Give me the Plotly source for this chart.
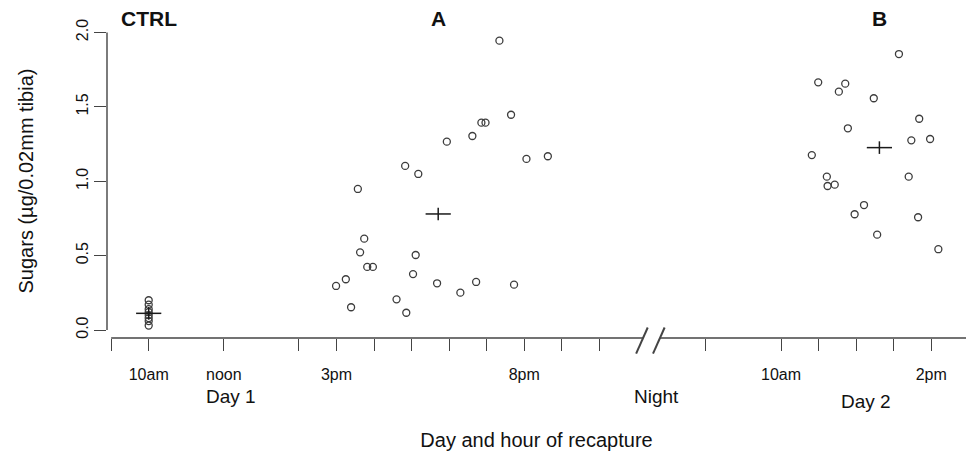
import plotly.graph_objects as go

# ---------------- data ----------------
ctrl_hour = [10.0, 10.0, 10.0, 10.0, 10.0, 10.0, 10.0, 10.0]
ctrl_val = [0.20, 0.17, 0.14, 0.12, 0.10, 0.08, 0.06, 0.03]

a_hour = [19.34, 19.65, 18.86, 18.97, 18.62, 17.94, 20.06, 20.63, 16.83, 17.18,
          15.57, 15.74, 15.63, 17.11, 15.82, 15.97, 17.04, 15.25, 14.99, 17.68,
          18.72, 18.30, 19.73, 15.39, 16.60, 16.86]
a_val = [1.945, 1.447, 1.394, 1.394, 1.304, 1.266, 1.150, 1.168, 1.103, 1.049,
         0.948, 0.614, 0.522, 0.504, 0.424, 0.424, 0.376, 0.341, 0.296, 0.314,
         0.323, 0.251, 0.305, 0.153, 0.206, 0.116]

b_hour = [13.14, 10.99, 11.71, 11.54, 12.47, 13.68, 11.78, 13.47, 13.97, 10.82,
          11.22, 11.24, 11.43, 13.40, 12.21, 11.96, 13.65, 12.56, 14.19]
b_val = [1.855, 1.665, 1.656, 1.602, 1.558, 1.420, 1.356, 1.275, 1.284, 1.176,
         1.031, 0.968, 0.977, 1.031, 0.840, 0.778, 0.758, 0.641, 0.543]

group_names = ["CTRL", "A", "B"]
mean_hour = [10.0, 17.71, 12.62]
mean_day = [1, 1, 2]
mean_val = [0.112, 0.780, 1.226]

day1_ticks = [9, 10, 12, 14, 15, 16, 17, 18, 19, 20, 21, 22]
day1_labels = {10: "10am", 12: "noon", 15: "3pm", 20: "8pm"}
day2_ticks = [8, 10, 11, 12, 13, 14]
day2_labels = {10: "10am", 14: "2pm"}

y_ticks = [0.0, 0.5, 1.0, 1.5, 2.0]
y_labels = ["0.0", "0.5", "1.0", "1.5", "2.0"]

# ---------------- layout constants ----------------
DAY2_SHIFT = 16.84          # night compressed on the axis
BREAK_A, BREAK_B = 23.166, 23.616
X0, X1 = 8.8895, 31.766
Y0, Y1 = -0.0538, 2.057
FONT = "Liberation Sans, Arial, Helvetica, sans-serif"
AX = "#444444"


def pos(hour, day):
    return hour if day == 1 else hour + DAY2_SHIFT


def xp(v):
    return (v - X0) / (X1 - X0)


def yp(v):
    return (v - Y0) / (Y1 - Y0)


fig = go.Figure()

marker = dict(symbol="circle-open", size=7, color="#3c3c3c", line=dict(width=1.3))
fig.add_trace(go.Scatter(x=[pos(h, 1) for h in ctrl_hour], y=ctrl_val, mode="markers",
                         marker=marker, name="CTRL", showlegend=False))
fig.add_trace(go.Scatter(x=[pos(h, 1) for h in a_hour], y=a_val, mode="markers",
                         marker=marker, name="A", showlegend=False))
fig.add_trace(go.Scatter(x=[pos(h, 2) for h in b_hour], y=b_val, mode="markers",
                         marker=marker, name="B", showlegend=False))

mx = [pos(h, d) for h, d in zip(mean_hour, mean_day)]
fig.add_trace(go.Scatter(x=mx, y=mean_val, mode="markers", showlegend=False,
                         marker=dict(symbol="line-ew", size=18,
                                     line=dict(width=1.5, color="#1a1a1a"))))
fig.add_trace(go.Scatter(x=mx, y=mean_val, mode="markers", showlegend=False,
                         marker=dict(symbol="line-ns", size=9,
                                     line=dict(width=1.5, color="#1a1a1a"))))

# group labels
for name, x in zip(group_names, mx):
    fig.add_annotation(x=x, xref="x", y=1.019, yref="paper", text="<b>%s</b>" % name,
                       showarrow=False, font=dict(size=21, color="#111", family=FONT),
                       xanchor="center", yanchor="middle")

# x tick values/labels
tickvals = [pos(h, 1) for h in day1_ticks] + [pos(h, 2) for h in day2_ticks]
ticktext = [day1_labels.get(h, "") for h in day1_ticks] + [day2_labels.get(h, "") for h in day2_ticks]

# day labels under hour labels
day_text = [("Day 1", pos(12.2, 1), -0.185), ("Night", (BREAK_A + BREAK_B) / 2 + 0.13, -0.185),
            ("Day 2", pos(12.26, 2), -0.201)]
for t, x, y in day_text:
    fig.add_annotation(x=x, xref="x", y=y, yref="paper", text=t, showarrow=False,
                       font=dict(size=19, color="#111", family=FONT),
                       xanchor="center", yanchor="middle")

shapes = []
line = dict(color=AX, width=1.4)
# y axis line spanning 0 .. 2
shapes.append(dict(type="line", xref="paper", yref="paper", x0=0, x1=0,
                   y0=yp(y_ticks[0]), y1=yp(y_ticks[-1]), line=line))
# x axis line with a break
shapes.append(dict(type="line", xref="paper", yref="paper", x0=xp(day1_ticks[0]),
                   x1=xp(BREAK_A), y0=0, y1=0, line=line))
shapes.append(dict(type="line", xref="paper", yref="paper", x0=xp(BREAK_B),
                   x1=1, y0=0, y1=0, line=line))
for c in (BREAK_A, BREAK_B):
    shapes.append(dict(type="line", xref="paper", yref="paper",
                       x0=xp(c - 0.185), y0=-0.050, x1=xp(c + 0.124), y1=0.0334,
                       line=dict(color=AX, width=2)))

fig.update_layout(
    width=966, height=453,
    margin=dict(l=107, r=0, t=24, b=115, autoexpand=False),
    paper_bgcolor="white", plot_bgcolor="white",
    font=dict(family=FONT, color="#111", size=16),
    shapes=shapes,
    xaxis=dict(range=[X0, X1], showgrid=False, zeroline=False, showline=False,
               tickmode="array", tickvals=tickvals, ticktext=ticktext,
               ticks="outside", ticklen=12, tickwidth=1.4, tickcolor=AX,
               tickfont=dict(size=16, family=FONT, color="#111"),
               ticklabelstandoff=10,
               title=dict(text="Day and hour of recapture", standoff=50,
                          font=dict(size=20, family=FONT, color="#111"))),
    yaxis=dict(range=[Y0, Y1], showgrid=False, zeroline=False, showline=False,
               tickmode="array", tickvals=y_ticks, ticktext=y_labels,
               tickangle=-90, ticks="outside", ticklen=12, tickwidth=1.4, tickcolor=AX,
               tickfont=dict(size=16, family=FONT, color="#111"),
               title=dict(text="Sugars (\u00b5g/0.02mm tibia)", standoff=34,
                          font=dict(size=20, family=FONT, color="#111"))),
)

fig.write_html("out.html", config={"displayModeBar": False},
               post_script="document.body.style.margin='0';")
